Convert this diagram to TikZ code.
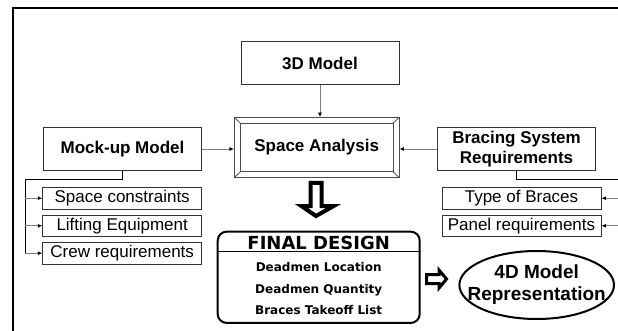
\documentclass[tikz,border=0pt]{standalone}
\usepackage{fontspec}
\setmainfont{Liberation Sans}
\newfontfamily\designfont{DejaVu Sans}
\usetikzlibrary{positioning, shapes.geometric, calc, arrows.meta}

\tikzset{
  plainbox/.style={draw=black!80, line width=0.8pt, fill=white, inner sep=0pt, align=center},
  bigbox/.style={plainbox, minimum width=158pt, minimum height=43pt, font=\fontsize{17}{20}\selectfont\bfseries},
  itembox/.style={plainbox, minimum width=159pt, minimum height=21.7pt, font=\fontsize{17}{20}\selectfont},
  link/.style={draw=black!50, line width=0.8pt, -{Latex[length=4.5pt,width=4pt,color=black]}},
  bus/.style={draw=black, line width=1pt},
  blockarrow/.style={draw=black, fill=white, line width=4pt, line join=miter},
  listitem/.style={anchor=base, font=\designfont\bfseries\fontsize{12}{14}\selectfont},
}

\begin{document}
\begin{tikzpicture}[x=1pt, y=-1pt]
            \useasboundingbox (0,0) rectangle (618,331);

            % Draw the outer frame
            \draw[line width=2pt] (13,332) -- (13,7.7) -- (620,7.7);

            % Draw the main boxes
            \node[bigbox] (model3d) at (320,63) {3D Model};
            \node[plainbox, draw=black!70, minimum width=164.7pt, minimum height=60pt,
                  font=\fontsize{17}{20}\selectfont\bfseries] (space) at (316.7,147.5) {Space Analysis};
            \node[bigbox] (mockup) at (122.5,149) {Mock-up Model};
            \node[bigbox] (bracing) at (516.5,149) {Bracing System\\Requirements};

            % Draw the bevel of the space analysis box
            \draw[black!70, line width=0.8pt] ($(space.north west)+(6.3,6)$) rectangle ($(space.south east)+(-6.3,-6)$);
            \foreach \c/\dx/\dy in {north west/6.3/6, north east/-6.3/6, south east/-6.3/-6, south west/6.3/-6}
                \draw[black!70, line width=0.8pt] (space.\c) -- ++(\dx,\dy);

            % Draw the inputs to the space analysis
            \draw[link] (model3d.south) -- (model3d.south |- space.north);
            \draw[link] (mockup.east) -- (mockup.east -| space.west);
            \draw[link] (bracing.west) -- (bracing.west -| space.east);

            % Draw the mock-up details
            \node[itembox] (constraints) at (122.2,198.2) {Space constraints};
            \node[itembox] (lifting) at (122.2,225.8) {Lifting Equipment};
            \node[itembox] (crew) at (122.2,253.2) {Crew requirements};
            \coordinate (leftbus) at (25,179.3);
            \draw[bus] (mockup.south) |- (leftbus) -- (leftbus |- crew.west);
            \foreach \n in {constraints, lifting, crew}
                \draw[link] (leftbus |- \n.west) -- (\n.west);

            % Draw the bracing details
            \node[itembox] (bracetype) at (521.5,198.2) {Type of Braces};
            \node[itembox] (panel) at (521.5,225.8) {Panel requirements};
            \coordinate (rightbus) at (622,179.3);
            \draw[bus] (bracing.south) |- (rightbus) -- (rightbus |- panel.east);
            \foreach \n in {bracetype, panel}
                \draw[link] (rightbus |- \n.east) -- (\n.east);

            % Draw the final design box
            \node[draw, line width=2pt, rounded corners=9pt, minimum width=202pt, minimum height=91.3pt] (final) at (318.7,277.3) {};
            \coordinate (divide) at (318.7,251.7);
            \draw[line width=1.5pt] (final.west |- divide) -- (final.east |- divide);
            \node[font=\designfont\bfseries\fontsize{18}{20}\selectfont] (finaltitle) at (318.7,243.3) {FINAL DESIGN};
            \node[listitem] (location) at (318.7,271.7) {Deadmen Location};
            \node[listitem] (quantity) at (318.7,293.3) {Deadmen Quantity};
            \node[listitem] (takeoff) at (318.7,314.3) {Braces Takeoff List};

            % Draw the 4D model
            \node[align=center, inner sep=0pt, font=\fontsize{19}{22}\selectfont\bfseries] (model4d) at (536.7,285) {4D Model\\Representation};
            \draw[line width=2pt] (model4d.center) ellipse [x radius=77.3, y radius=34];

            % Draw the hollow block arrows
            \draw[blockarrow] (310.5,183) -- (321.5,183) -- (321.5,206) -- (333.7,206) -- (316,216)
                -- (301.3,206) -- (310.5,206) -- cycle;
            \draw[blockarrow, line width=3pt] (426.5,274.5) -- (439,274.5) -- (439,270) -- (446.5,279)
                -- (439,288) -- (439,283.5) -- (426.5,283.5) -- cycle;
        \end{tikzpicture}
\end{document}
